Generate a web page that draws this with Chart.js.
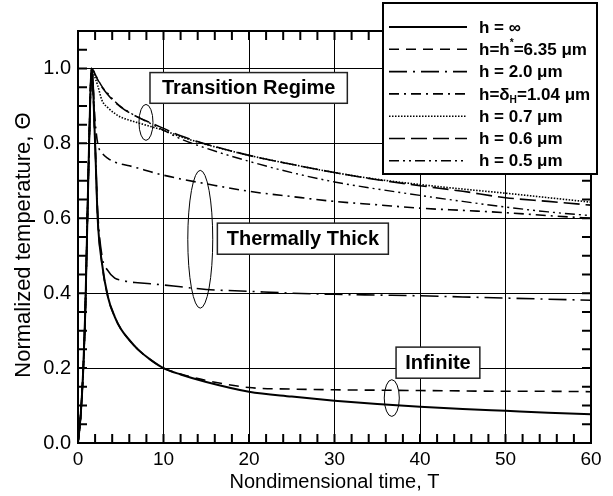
<!DOCTYPE html>
<html>
<head>
<meta charset="utf-8">
<script src="https://cdn.jsdelivr.net/npm/chart.js@4.4.1/dist/chart.umd.min.js"></script>
<style>
  html, body { margin: 0; padding: 0; background: #fff; }
  canvas { display: block; }
</style>
</head>
<body>
<canvas id="chart" width="613" height="496"></canvas>
<script>
// nondimensional time grid shared by all curves
const timeT = [0, 0.3, 0.62, 0.85, 1.05, 1.3, 1.6, 2.0, 2.3, 2.8, 3.5, 4.3, 5, 6, 7, 8.5, 10, 12, 15, 20, 25, 30, 35, 40, 45, 50, 55, 60];

// normalized temperature for each film thickness
const thetaInf  = [0, 0.07, 0.2, 0.35, 0.55, 0.8, 1.0, 0.8, 0.6, 0.48, 0.39, 0.337, 0.305, 0.275, 0.25, 0.222, 0.2, 0.183, 0.163, 0.137, 0.124, 0.113, 0.104, 0.097, 0.091, 0.086, 0.081, 0.077];
const thetaH635 = [0, 0.07, 0.2, 0.35, 0.55, 0.8, 1.0, 0.8, 0.6, 0.48, 0.39, 0.337, 0.305, 0.275, 0.25, 0.222, 0.2, 0.184, 0.167, 0.148, 0.144, 0.142, 0.141, 0.140, 0.139, 0.138, 0.138, 0.137];
const thetaH20  = [0, 0.07, 0.2, 0.35, 0.55, 0.8, 1.0, 0.8, 0.62, 0.5, 0.46, 0.44, 0.435, 0.43, 0.428, 0.425, 0.422, 0.417, 0.41, 0.405, 0.4, 0.397, 0.395, 0.393, 0.39, 0.387, 0.384, 0.381];
const thetaH104 = [0, 0.07, 0.2, 0.35, 0.55, 0.8, 1.0, 0.86, 0.8, 0.775, 0.76, 0.75, 0.745, 0.74, 0.734, 0.724, 0.715, 0.705, 0.692, 0.672, 0.658, 0.645, 0.636, 0.627, 0.621, 0.615, 0.607, 0.600];
const thetaH07  = [0, 0.07, 0.2, 0.35, 0.55, 0.8, 1.0, 0.975, 0.955, 0.915, 0.895, 0.88, 0.87, 0.862, 0.855, 0.845, 0.835, 0.818, 0.797, 0.768, 0.744, 0.722, 0.704, 0.69, 0.678, 0.667, 0.655, 0.643];
const thetaH06  = [0, 0.07, 0.2, 0.35, 0.55, 0.8, 1.0, 0.985, 0.97, 0.95, 0.93, 0.91, 0.897, 0.882, 0.87, 0.855, 0.84, 0.82, 0.798, 0.768, 0.744, 0.722, 0.703, 0.687, 0.672, 0.655, 0.645, 0.635];
const thetaH05  = [0, 0.07, 0.2, 0.35, 0.55, 0.8, 1.0, 0.985, 0.972, 0.952, 0.933, 0.912, 0.898, 0.883, 0.87, 0.853, 0.835, 0.812, 0.787, 0.752, 0.722, 0.697, 0.678, 0.661, 0.645, 0.630, 0.617, 0.607];

// ^x = superscript, _x = subscript
const seriesLabels = ['h = ∞', 'h=h^*=6.35 μm', 'h = 2.0 μm', 'h=δ_H=1.04 μm', 'h = 0.7 μm', 'h = 0.6 μm', 'h = 0.5 μm'];
const seriesValues = [thetaInf, thetaH635, thetaH20, thetaH104, thetaH07, thetaH06, thetaH05];
const seriesDashes = [[], [10, 7], [18, 6, 2, 6], [10, 5, 2, 5], [1.5, 1.5], [16, 6], [10, 4, 2, 4, 2, 4]];
const seriesWidths = [2, 1.6, 1.6, 1.6, 1.6, 1.6, 1.4];

const X_MIN = 0, X_MAX = 60, Y_MIN = 0, Y_MAX = 1.1;
const xTickValues = [0, 10, 20, 30, 40, 50, 60];
const yTickValues = [0, 0.2, 0.4, 0.6, 0.8, 1.0];
// minor tick positions (every 2 in T, every 0.05 in Θ)
const xMinorTicks = [0, 2, 4, 6, 8, 10, 12, 14, 16, 18, 20, 22, 24, 26, 28, 30, 32, 34, 36, 38, 40, 42, 44, 46, 48, 50, 52, 54, 56, 58, 60];
const yMinorTicks = [0, 0.05, 0.1, 0.15, 0.2, 0.25, 0.3, 0.35, 0.4, 0.45, 0.5, 0.55, 0.6, 0.65, 0.7, 0.75, 0.8, 0.85, 0.9, 0.95, 1.0, 1.05, 1.1];
const yAxisTitle = 'Normalized temperature, Θ';

const noteBoxes = [
    { text: 'Transition Regime', x0: 8.42, x1: 31.5, y0: 0.907, y1: 0.989 },
    { text: 'Thermally Thick', x0: 16.3, x1: 36.3, y0: 0.504, y1: 0.587 },
    { text: 'Infinite', x0: 37.2, x1: 47.0, y0: 0.173, y1: 0.256 }
];
const noteEllipses = [
    { cx: 7.95, cy: 0.856, rx: 0.82, ry: 0.048 },
    { cx: 14.3, cy: 0.544, rx: 1.46, ry: 0.184 },
    { cx: 36.7, cy: 0.12, rx: 0.88, ry: 0.049 }
];

const FONT = "'Liberation Sans', Arial, sans-serif";

function drawRich(ctx, str, x, y, size) {
    let cx = x;
    for (let i = 0; i < str.length; i++) {
        let ch = str[i];
        let s = size, dy = 0;
        if ((ch === '^' || ch === '_') && i + 1 < str.length) {
            dy = ch === '^' ? -size * 0.4 : size * 0.3;
            s = size * 0.6;
            ch = str[++i];
        }
        ctx.font = 'bold ' + s + 'px ' + FONT;
        ctx.fillText(ch, cx, y + dy);
        cx += ctx.measureText(ch).width;
    }
}

const decorPlugin = {
    id: 'decor',
    afterDraw(chart) {
        const ctx = chart.ctx;
        const xs = chart.scales.x, ys = chart.scales.y;
        const a = chart.chartArea;
        ctx.save();
        ctx.setLineDash([]);

        // minor ticks, pointing inwards on all four sides
        ctx.strokeStyle = '#000';
        ctx.lineWidth = 2;
        ctx.beginPath();
        xMinorTicks.forEach(v => {
            const px = xs.getPixelForValue(v);
            ctx.moveTo(px, a.bottom - 9);
            ctx.lineTo(px, a.bottom);
            ctx.moveTo(px, a.top);
            ctx.lineTo(px, a.top + 9);
        });
        yMinorTicks.forEach(v => {
            const py = ys.getPixelForValue(v);
            ctx.moveTo(a.left, py);
            ctx.lineTo(a.left + 9, py);
            ctx.moveTo(a.right - 9, py);
            ctx.lineTo(a.right, py);
        });
        ctx.stroke();

        // plot frame
        ctx.lineWidth = 2;
        ctx.strokeRect(a.left, a.top, a.right - a.left, a.bottom - a.top);

        // y axis title, drawn by hand so it can sit a little below centre
        ctx.save();
        ctx.translate(24, (a.top + a.bottom) / 2 + 8);
        ctx.rotate(-Math.PI / 2);
        ctx.fillStyle = '#000';
        ctx.font = '22px ' + FONT;
        ctx.textAlign = 'center';
        ctx.textBaseline = 'middle';
        ctx.fillText(yAxisTitle, 0, 0);
        ctx.restore();

        // ellipses
        ctx.lineWidth = 1;
        noteEllipses.forEach(e => {
            const cx = xs.getPixelForValue(e.cx), cy = ys.getPixelForValue(e.cy);
            const rx = xs.getPixelForValue(e.cx + e.rx) - cx;
            const ry = cy - ys.getPixelForValue(e.cy + e.ry);
            ctx.beginPath();
            ctx.ellipse(cx, cy, rx, ry, 0, 0, Math.PI * 2);
            ctx.stroke();
        });

        // annotation boxes
        noteBoxes.forEach(b => {
            const l = xs.getPixelForValue(b.x0), r = xs.getPixelForValue(b.x1);
            const t = ys.getPixelForValue(b.y1), bt = ys.getPixelForValue(b.y0);
            ctx.fillStyle = '#fff';
            ctx.fillRect(l, t, r - l, bt - t);
            ctx.lineWidth = 1.5;
            ctx.strokeStyle = '#222';
            ctx.strokeRect(l, t, r - l, bt - t);
            ctx.fillStyle = '#000';
            ctx.font = 'bold 20px ' + FONT;
            ctx.textAlign = 'center';
            ctx.textBaseline = 'middle';
            ctx.fillText(b.text, (l + r) / 2, (t + bt) / 2 + 1);
        });

        // legend
        const lx = 383, ly = 3, lw = 214, lh = 171;
        ctx.fillStyle = '#fff';
        ctx.fillRect(lx, ly, lw, lh);
        ctx.lineWidth = 2;
        ctx.strokeStyle = '#000';
        ctx.strokeRect(lx, ly, lw, lh);
        ctx.textAlign = 'left';
        ctx.textBaseline = 'middle';
        seriesLabels.forEach((label, i) => {
            const ds = chart.data.datasets[i];
            const y = ly + 24 + i * 22.3;
            ctx.beginPath();
            ctx.setLineDash(ds.borderDash);
            ctx.lineWidth = ds.borderWidth;
            ctx.moveTo(389, y); ctx.lineTo(467, y);
            ctx.stroke();
            ctx.setLineDash([]);
            ctx.fillStyle = '#000';
            drawRich(ctx, label, 479, y + 1, 17);
        });
        ctx.restore();
    }
};

new Chart(document.getElementById('chart'), {
    type: 'line',
    data: {
        datasets: seriesValues.map((vals, i) => ({
            label: seriesLabels[i],
            data: timeT.map((t, j) => ({ x: t, y: vals[j] })),
            borderColor: '#000',
            borderWidth: seriesWidths[i],
            borderDash: seriesDashes[i],
            pointRadius: 0,
            fill: false,
            cubicInterpolationMode: 'monotone'
        }))
    },
    options: {
        responsive: false,
        animation: false,
        layout: { padding: { top: 31, right: 22, left: 0, bottom: 0 } },
        plugins: { legend: { display: false }, tooltip: { enabled: false } },
        scales: {
            x: {
                type: 'linear',
                min: X_MIN,
                max: X_MAX,
                afterBuildTicks: s => { s.ticks = xTickValues.map(v => ({ value: v })); },
                afterFit: s => { s.height = 53; },
                grid: { color: '#000', lineWidth: 1, drawTicks: false },
                border: { color: '#000', width: 2 },
                ticks: { color: '#000', padding: 5, maxRotation: 0, font: { family: FONT, size: 19 } },
                title: {
                    display: true,
                    text: 'Nondimensional time, T',
                    color: '#000',
                    font: { family: FONT, size: 20 },
                    padding: { top: 0, bottom: 2 }
                }
            },
            y: {
                min: Y_MIN,
                max: Y_MAX,
                afterBuildTicks: s => { s.ticks = yTickValues.map(v => ({ value: v })); },
                afterFit: s => { s.width = 78; },
                grid: { color: '#000', lineWidth: 1, drawTicks: false },
                border: { color: '#000', width: 2 },
                ticks: {
                    color: '#000',
                    padding: 7,
                    font: { family: FONT, size: 20 },
                    callback: v => Number(v).toFixed(1)
                }
            }
        }
    },
    plugins: [decorPlugin]
});
</script>
</body>
</html>
